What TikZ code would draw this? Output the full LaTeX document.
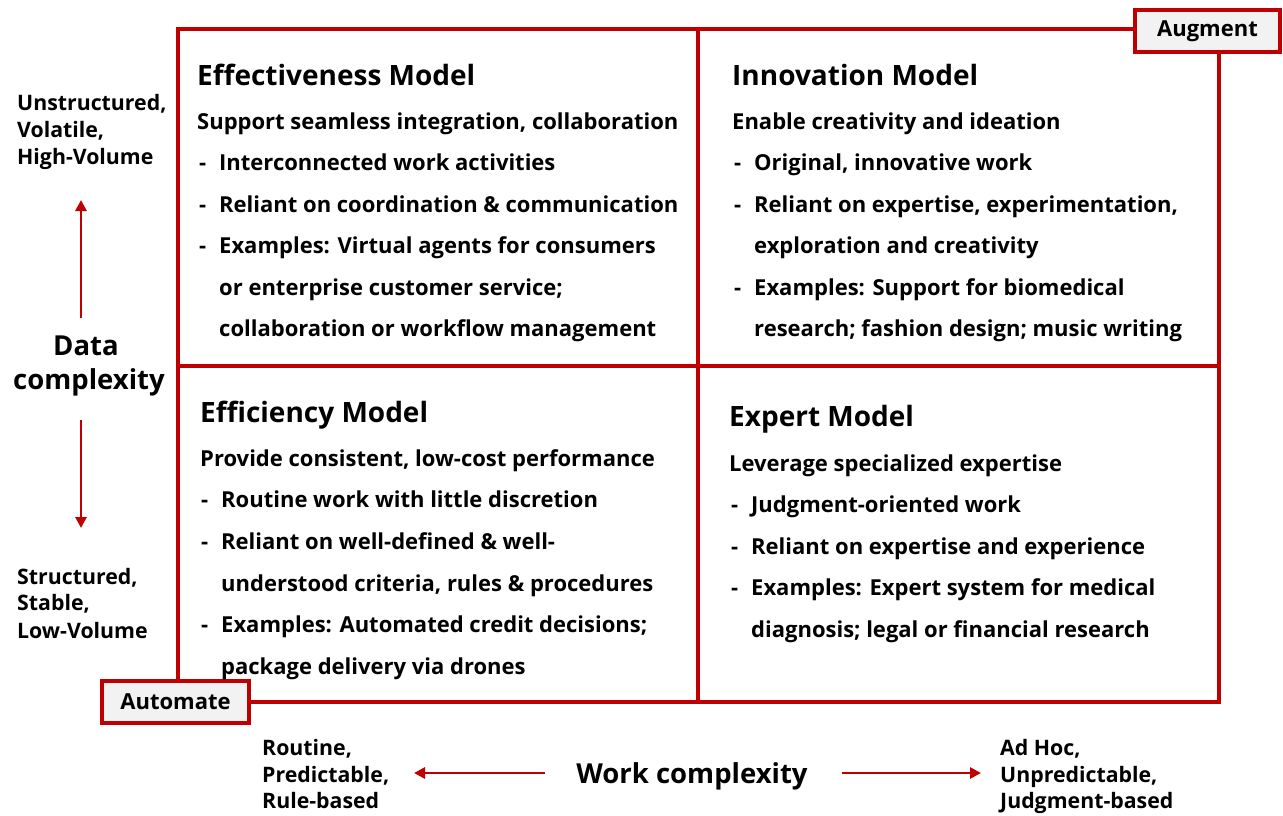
\documentclass[tikz,border=0pt]{standalone}
\usepackage{fontspec}
\setmainfont{Open Sans}[BoldFont={Open Sans Bold}]
\usetikzlibrary{arrows.meta}
\definecolor{frame}{HTML}{C00000}
\definecolor{tagfill}{HTML}{F2F2F2}
% bullet dash with a fixed indent
\newcommand{\dashitem}{\makebox[20pt][l]{-}}
\begin{document}
\begin{tikzpicture}[x=1pt,y=-1pt,
  body/.style={anchor=base west, inner sep=0pt, font=\bfseries\fontsize{22}{26}\selectfont},
  ttl/.style={anchor=base west, inner sep=0pt, font=\bfseries\fontsize{28}{32}\selectfont},
  side/.style={anchor=base west, inner sep=0pt, font=\bfseries\fontsize{21.3}{25}\selectfont},
  axis/.style={anchor=base, inner sep=0pt, font=\bfseries\fontsize{27.5}{31}\selectfont},
  grid/.style={draw=frame, line width=3.8pt},
  tag/.style={draw=frame, fill=tagfill, line width=3.8pt, inner sep=0pt,
    minimum height=42pt, font=\bfseries\fontsize{22}{26}\selectfont},
  arr/.style={draw=frame, line width=2.8pt, -{Triangle[length=11pt,width=11pt]}}]
\useasboundingbox (0,0) rectangle (1283,815);
\fill[white] (0,0) rectangle (1283,815);

% the 2x2 grid
\coordinate (nw) at (178,29);
\coordinate (se) at (1219,702);
\coordinate (mt) at (698,29);
\coordinate (mb) at (698,702);
\coordinate (ml) at (178,366);
\coordinate (mr) at (1219,366);
\draw[grid] (nw) rectangle (se);
\draw[grid] (mt) -- (mb);
\draw[grid] (ml) -- (mr);

% corner tags
\node[tag, minimum width=145pt] (augment) at (1207.5,31) {Augment};
\node[tag, minimum width=147pt] (automate) at (175.5,702) {Automate};

% top-left quadrant
\node[ttl]  (e0) at (197,85)  {Effectiveness Model};
\node[body] (e1) at (197,129) {Support seamless integration, collaboration};
\node[body] (e2) at (199,170) {\dashitem Interconnected work activities};
\node[body] (e3) at (199,212) {\dashitem Reliant on coordination \& communication};
\node[body] (e4) at (199,253) {\dashitem Examples: Virtual agents for consumers};
\node[body] (e5) at (219,295) {or enterprise customer service;};
\node[body] (e6) at (219,336) {collaboration or workflow management};

% top-right quadrant
\node[ttl]  (i0) at (732,85)  {Innovation Model};
\node[body] (i1) at (732,129) {Enable creativity and ideation};
\node[body] (i2) at (734,170) {\dashitem Original, innovative work};
\node[body] (i3) at (734,212) {\dashitem Reliant on expertise, experimentation,};
\node[body] (i4) at (754,253) {exploration and creativity};
\node[body] (i5) at (734,295) {\dashitem Examples: Support for biomedical};
\node[body] (i6) at (754,336) {research; fashion design; music writing};

% bottom-left quadrant
\node[ttl]  (f0) at (200,422) {Efficiency Model};
\node[body] (f1) at (200,466) {Provide consistent, low-cost performance};
\node[body] (f2) at (201,507) {\dashitem Routine work with little discretion};
\node[body] (f3) at (201,549) {\dashitem Reliant on well-defined \& well-};
\node[body] (f4) at (221,591) {understood criteria, rules \& procedures};
\node[body] (f5) at (201,632) {\dashitem Examples: Automated credit decisions;};
\node[body] (f6) at (221,674) {package delivery via drones};

% bottom-right quadrant
\node[ttl]  (x0) at (729,426) {Expert Model};
\node[body] (x1) at (729,471) {Leverage specialized expertise};
\node[body] (x2) at (731,512) {\dashitem Judgment-oriented work};
\node[body] (x3) at (731,554) {\dashitem Reliant on expertise and experience};
\node[body] (x4) at (731,595) {\dashitem Examples: Expert system for medical};
\node[body] (x5) at (751,637) {diagnosis; legal or financial research};

% vertical axis
\node[side] (u1) at (17,110) {Unstructured,};
\node[side] (u2) at (17,137) {Volatile,};
\node[side] (u3) at (17,164) {High-Volume};
\node[axis] (d1) at (86,355) {Data};
\node[axis] (d2) at (89,389) {complexity};
\node[side] (s1) at (17,584) {Structured,};
\node[side] (s2) at (17,610) {Stable,};
\node[side] (s3) at (17,638) {Low-Volume};
\coordinate (upA) at (81,318);
\coordinate (upB) at (81,200);
\coordinate (dnA) at (81,420);
\coordinate (dnB) at (81,528);
\draw[arr] (upA) -- (upB);
\draw[arr] (dnA) -- (dnB);

% horizontal axis
\node[side] (r1) at (262,755) {Routine,};
\node[side] (r2) at (262,782) {Predictable,};
\node[side] (r3) at (262,808) {Rule-based};
\node[axis] (w) at (692,783) {Work complexity};
\node[side] (a1) at (1000,755) {Ad Hoc,};
\node[side] (a2) at (1000,782) {Unpredictable,};
\node[side] (a3) at (1000,808) {Judgment-based};
\coordinate (lfA) at (545,773);
\coordinate (lfB) at (414,773);
\coordinate (rtA) at (842,773);
\coordinate (rtB) at (981,773);
\draw[arr] (lfA) -- (lfB);
\draw[arr] (rtA) -- (rtB);
\end{tikzpicture}
\end{document}
